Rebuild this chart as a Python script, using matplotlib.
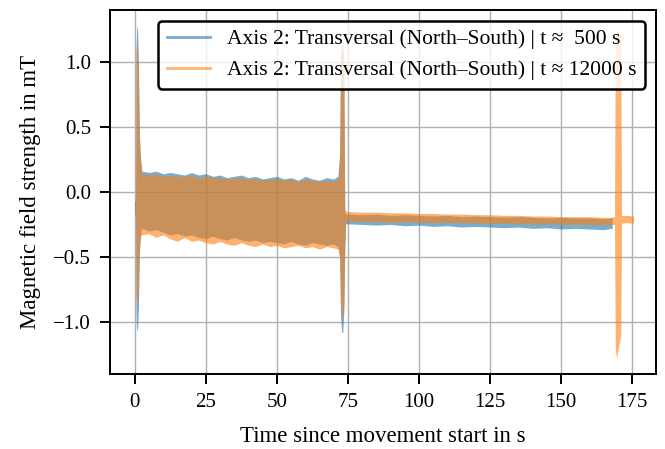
import numpy as np
import matplotlib.pyplot as plt
from matplotlib.lines import Line2D

plt.rcParams['font.family'] = ['Liberation Serif', 'DejaVu Serif']
plt.rcParams['font.size'] = 15

# envelope of the signals (upper / lower edge of the oscillation band)
# start transient
t_start = [0.0, 0.3, 0.45, 0.7, 1.0, 1.3, 1.6, 1.9, 2.3]
blue_start_up = [-0.06, -0.08, 1.1, 1.28, 1.25, 1.0, 0.5, 0.3, 0.2]
blue_start_lo = [-0.15, -0.2, -0.95, -1.07, -1.05, -0.9, -0.5, -0.35, -0.28]
orange_start_up = [-0.1, -0.1, 1.0, 1.15, 1.12, 0.9, 0.45, 0.28, 0.18]
orange_start_lo = [-0.16, -0.18, -0.8, -0.88, -0.86, -0.75, -0.45, -0.38, -0.33]

# movement phase
t_move = [2.5, 5, 7.5, 10, 12.5, 15, 17.5, 20, 22.5, 25, 27.5, 30, 32.5, 35,
          37.5, 40, 42.5, 45, 47.5, 50, 52.5, 55, 57.5, 60, 62.5, 65, 67.5, 70]
blue_move_up = [0.16, 0.15, 0.16, 0.14, 0.15, 0.14, 0.13, 0.15, 0.13, 0.14, 0.12, 0.13, 0.11, 0.12,
                0.13, 0.11, 0.12, 0.10, 0.11, 0.12, 0.10, 0.11, 0.09, 0.12, 0.10, 0.09, 0.11, 0.10]
blue_move_lo = [-0.28, -0.30, -0.29, -0.31, -0.33, -0.32, -0.34, -0.33, -0.35, -0.36, -0.34, -0.36, -0.37, -0.35,
                -0.37, -0.38, -0.37, -0.39, -0.38, -0.39, -0.40, -0.38, -0.40, -0.41, -0.39, -0.40, -0.41, -0.40]
orange_move_up = [0.14, 0.13, 0.14, 0.12, 0.13, 0.12, 0.12, 0.13, 0.11, 0.12, 0.11, 0.11, 0.10, 0.11,
                  0.11, 0.10, 0.10, 0.09, 0.10, 0.10, 0.09, 0.10, 0.08, 0.10, 0.09, 0.08, 0.09, 0.08]
orange_move_lo = [-0.33, -0.32, -0.35, -0.33, -0.36, -0.38, -0.35, -0.38, -0.37, -0.39, -0.40, -0.38, -0.40, -0.41,
                  -0.39, -0.41, -0.42, -0.40, -0.42, -0.41, -0.43, -0.42, -0.41, -0.43, -0.42, -0.44, -0.42, -0.43]

# stop transient
t_stop = [71.5, 72.1, 72.4, 72.8, 73.2, 73.6, 73.9, 74.2]
blue_stop_up = [0.12, 0.3, 1.0, 1.1, 1.1, 0.9, -0.15, -0.17]
blue_stop_lo = [-0.42, -0.5, -0.95, -1.08, -1.08, -0.9, -0.45, -0.245]
orange_stop_up = [0.10, 0.25, 1.05, 1.15, 1.15, 0.95, -0.13, -0.15]
orange_stop_lo = [-0.44, -0.5, -0.85, -0.97, -0.97, -0.85, -0.45, -0.225]

# resting phase
t_rest = [75, 80, 85, 90, 95, 100, 105, 110, 115, 120, 125, 130, 135, 140, 145, 150, 155, 160, 165, 168]
blue_rest_up = [-0.17, -0.175, -0.17, -0.18, -0.175, -0.18, -0.185, -0.18, -0.19, -0.185,
                -0.19, -0.195, -0.19, -0.195, -0.20, -0.195, -0.20, -0.20, -0.205, -0.20]
blue_rest_lo = [-0.245, -0.25, -0.255, -0.25, -0.26, -0.255, -0.265, -0.26, -0.27, -0.265,
                -0.27, -0.275, -0.27, -0.28, -0.275, -0.285, -0.28, -0.285, -0.29, -0.28]
orange_rest_up = [-0.15, -0.155, -0.155, -0.16, -0.16, -0.165, -0.165, -0.17, -0.17, -0.175,
                  -0.175, -0.18, -0.18, -0.185, -0.185, -0.19, -0.19, -0.19, -0.195, -0.195]
orange_rest_lo = [-0.225, -0.23, -0.23, -0.235, -0.23, -0.235, -0.24, -0.235, -0.24, -0.24,
                  -0.245, -0.24, -0.245, -0.25, -0.245, -0.25, -0.25, -0.25, -0.255, -0.25]

# only the later measurement has the final spike
t_end = [168.8, 169.1, 169.5, 170.6, 171.0, 171.3, 173, 175.5]
orange_end_up = [-0.19, 1.2, 1.23, 1.23, 1.2, -0.18, -0.18, -0.185]
orange_end_lo = [-0.25, -1.2, -1.28, -1.15, -1.1, -0.24, -0.235, -0.24]

labels = ['Axis 2: Transversal (North\u2013South) | t \u2248  500 s',
          'Axis 2: Transversal (North\u2013South) | t \u2248 12000 s']

t_blue = t_start + t_move + t_stop + t_rest
up_blue = blue_start_up + blue_move_up + blue_stop_up + blue_rest_up
lo_blue = blue_start_lo + blue_move_lo + blue_stop_lo + blue_rest_lo
t_orange = t_start + t_move + t_stop + t_rest + t_end
up_orange = orange_start_up + orange_move_up + orange_stop_up + orange_rest_up + orange_end_up
lo_orange = orange_start_lo + orange_move_lo + orange_stop_lo + orange_rest_lo + orange_end_lo

fig, ax = plt.subplots(figsize=(6.65, 4.49), dpi=100)
fig.subplots_adjust(left=0.165, right=0.986, top=0.978, bottom=0.167)

ax.fill_between(t_blue, lo_blue, up_blue, color='tab:blue', alpha=0.6, lw=0, zorder=2)
ax.fill_between(t_orange, lo_orange, up_orange, color='tab:orange', alpha=0.6, lw=0, zorder=2)

ax.set_xlim(-8.8, 183.3)
ax.set_ylim(-1.4, 1.4)
ax.set_xticks([0, 25, 50, 75, 100, 125, 150, 175])
ax.set_yticks([-1.0, -0.5, 0.0, 0.5, 1.0])
ax.grid(True, color='#b0b0b0', lw=1.0)
ax.tick_params(direction='out', length=7, width=1.4, pad=6.5, labelsize=15)
for s in ax.spines.values():
    s.set_linewidth(1.4)
ax.set_xlabel('Time since movement start in s', fontsize=16.5, labelpad=10)
ax.set_ylabel('Magnetic field strength in mT', fontsize=16.5, labelpad=9)

handles = [Line2D([0], [0], color='tab:blue', alpha=0.6, lw=2),
           Line2D([0], [0], color='tab:orange', alpha=0.6, lw=2)]
leg = ax.legend(handles, labels, loc='upper right', fontsize=15.5)
frame = leg.get_frame()
frame.set_alpha(None)
frame.set_facecolor((1, 1, 1, 0.8))
frame.set_edgecolor((0, 0, 0, 1))
frame.set_linewidth(1.8)

fig.savefig('out.png')
